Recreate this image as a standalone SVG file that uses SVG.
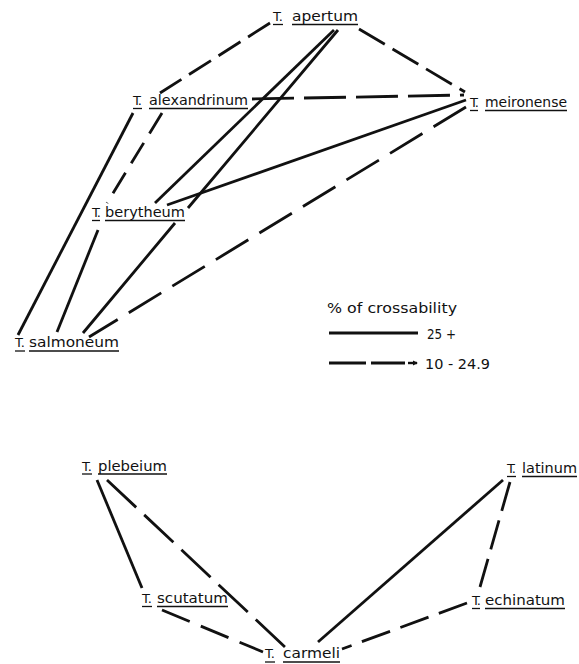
<svg xmlns="http://www.w3.org/2000/svg" width="579" height="664" viewBox="0 0 579 664">
  <style>
    text { font-family: "DejaVu Sans", "Liberation Sans", sans-serif; font-size: 14px; fill: #111; }
    .t { font-size: 13px; }
    .ul { stroke: #111; stroke-width: 1.3; }
    .edge { fill: none; stroke: #111; stroke-width: 2.8; stroke-linecap: butt; }
  </style>
  <defs>
    <marker id="tip" viewBox="0 0 6 6" refX="5" refY="3" markerWidth="2.2" markerHeight="2.2" orient="auto" markerUnits="strokeWidth">
      <path d="M0,0 L6,3 L0,6 z" fill="#111"/>
    </marker>
  </defs>
  <rect width="579" height="664" fill="#fff"/>

  <!-- connectors: solid = 25 % and over, dashed = 10 - 24.9 % -->
  <g id="connectors">
    <!-- upper group -->
    <path class="edge" d="M270,23 L160,93" style="stroke-dasharray:26 9"/>
    <path class="edge" d="M359,29 L465,92" style="stroke-dasharray:30 9"/>
    <path class="edge" d="M252,99 L464,95" style="stroke-dasharray:42 10"/>
    <path class="edge" d="M334,30 L155,203"/>
    <path class="edge" d="M338,30 L188,208 M175,223 L83,333"/>
    <path class="edge" d="M167,205 L466,100"/>
    <path class="edge" d="M466,107 L89,337" style="stroke-dasharray:38 13"/>
    <path class="edge" d="M133,113 L18,335"/>
    <path class="edge" d="M162,113 L107,203" style="stroke-dasharray:24 11"/>
    <path class="edge" d="M98,230 L57,332"/>
    <!-- lower group -->
    <path class="edge" d="M97,480 L142,588"/>
    <path class="edge" d="M107,480 L285,647" style="stroke-dasharray:40 11"/>
    <path class="edge" d="M162,610 L263,652" style="stroke-dasharray:30 12"/>
    <path class="edge" d="M503,480 L318,642"/>
    <path class="edge" d="M510,482 L480,587" style="stroke-dasharray:30 10"/>
    <path class="edge" d="M467,603 L342,649" style="stroke-dasharray:30 11"/>
  </g>

  <!-- species labels -->
  <g id="apertum">
    <text class="t" x="273" y="21" textLength="10" lengthAdjust="spacing">T.</text>
    <text x="292" y="21" textLength="66" lengthAdjust="spacingAndGlyphs">apertum</text>
    <line class="ul" x1="273" y1="24.5" x2="283" y2="24.5"/>
    <line class="ul" x1="292" y1="24.5" x2="358" y2="24.5"/>
  </g>
  <g id="alexandrinum">
    <text class="t" x="133" y="105" textLength="9" lengthAdjust="spacing">T.</text>
    <text x="149" y="105" textLength="99" lengthAdjust="spacingAndGlyphs">alexandrinum</text>
    <line class="ul" x1="133" y1="108.5" x2="142" y2="108.5"/>
    <line class="ul" x1="149" y1="108.5" x2="248" y2="108.5"/>
  </g>
  <g id="meironense">
    <text class="t" x="470" y="107" textLength="9" lengthAdjust="spacing">T.</text>
    <text x="485" y="107" textLength="82" lengthAdjust="spacingAndGlyphs">meironense</text>
    <line class="ul" x1="470" y1="110.5" x2="478" y2="110.5"/>
    <line class="ul" x1="485" y1="110.5" x2="567" y2="110.5"/>
  </g>
  <g id="berytheum">
    <text class="t" x="92" y="217" textLength="9" lengthAdjust="spacing">T.</text>
    <text x="105" y="217" textLength="80" lengthAdjust="spacingAndGlyphs">berytheum</text>
    <line class="ul" x1="92" y1="220.5" x2="100" y2="220.5"/>
    <line class="ul" x1="105" y1="220.5" x2="185" y2="220.5"/>
  </g>
  <g id="salmoneum">
    <text class="t" x="15" y="347" textLength="10" lengthAdjust="spacing">T.</text>
    <text x="29" y="347" textLength="90" lengthAdjust="spacingAndGlyphs">salmoneum</text>
    <line class="ul" x1="15" y1="351" x2="25" y2="351"/>
    <line class="ul" x1="29" y1="351" x2="119" y2="351"/>
  </g>
  <g id="plebeium">
    <text class="t" x="82" y="471" textLength="10" lengthAdjust="spacing">T.</text>
    <text x="98" y="471" textLength="69" lengthAdjust="spacingAndGlyphs">plebeium</text>
    <line class="ul" x1="82" y1="474" x2="92" y2="474"/>
    <line class="ul" x1="98" y1="474" x2="167" y2="474"/>
  </g>
  <g id="scutatum">
    <text class="t" x="142" y="603" textLength="10" lengthAdjust="spacing">T.</text>
    <text x="157" y="603" textLength="71" lengthAdjust="spacingAndGlyphs">scutatum</text>
    <line class="ul" x1="142" y1="606.5" x2="152" y2="606.5"/>
    <line class="ul" x1="157" y1="606.5" x2="228" y2="606.5"/>
  </g>
  <g id="carmeli">
    <text class="t" x="265" y="658" textLength="10" lengthAdjust="spacing">T.</text>
    <text x="283" y="658" textLength="57" lengthAdjust="spacingAndGlyphs">carmeli</text>
    <line class="ul" x1="265" y1="662" x2="275" y2="662"/>
    <line class="ul" x1="283" y1="662" x2="340" y2="662"/>
  </g>
  <g id="latinum">
    <text class="t" x="507" y="473" textLength="9" lengthAdjust="spacing">T.</text>
    <text x="522" y="473" textLength="55" lengthAdjust="spacingAndGlyphs">latinum</text>
    <line class="ul" x1="507" y1="476.5" x2="516" y2="476.5"/>
    <line class="ul" x1="522" y1="476.5" x2="577" y2="476.5"/>
  </g>
  <g id="echinatum">
    <text class="t" x="472" y="605" textLength="9" lengthAdjust="spacing">T.</text>
    <text x="485" y="605" textLength="80" lengthAdjust="spacingAndGlyphs">echinatum</text>
    <line class="ul" x1="472" y1="608.5" x2="480" y2="608.5"/>
    <line class="ul" x1="485" y1="608.5" x2="565" y2="608.5"/>
  </g>

  <!-- key -->
  <g id="legend">
    <text x="327" y="313" textLength="130" lengthAdjust="spacingAndGlyphs">% of crossability</text>
    <line class="edge" x1="329" y1="333" x2="418" y2="333"/>
    <text x="427" y="339" textLength="29" lengthAdjust="spacingAndGlyphs">25 +</text>
    <path class="edge" d="M329,363 L366,363 M371,363 L405,363"/>
    <line x1="408" y1="363" x2="417" y2="363" stroke="#111" stroke-width="2.4" marker-end="url(#tip)"/>
    <text x="425" y="369" textLength="65" lengthAdjust="spacingAndGlyphs">10 - 24.9</text>
  </g>
</svg>
